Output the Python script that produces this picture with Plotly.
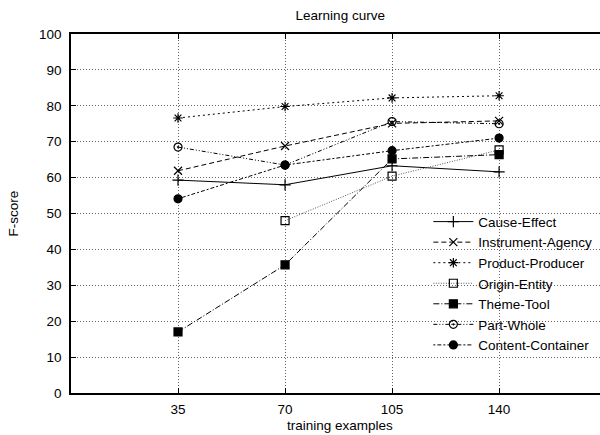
import plotly.graph_objects as go

x_ticks = [35, 70, 105, 140]
series_names = ["Cause-Effect", "Instrument-Agency", "Product-Producer", "Origin-Entity",
                "Theme-Tool", "Part-Whole", "Content-Container"]
cause_effect = [59.3, 58.0, 63.3, 61.6]
instrument_agency = [61.9, 68.8, 75.1, 75.8]
product_producer = [76.6, 79.8, 82.2, 82.8]
origin_entity = [None, 48.0, 60.4, 67.7]
theme_tool = [17.0, 35.7, 65.2, 66.4]
part_whole = [68.5, 63.5, 75.6, 75.0]
content_container = [54.1, 63.5, 67.5, 71.0]

values = [cause_effect, instrument_agency, product_producer, origin_entity,
          theme_tool, part_whole, content_container]
styles = [
    dict(dash="solid", symbol="cross-thin-open", color="#000"),
    dict(dash="5px,3px", symbol="x-thin-open", color="#000"),
    dict(dash="2px,3px", symbol="asterisk-open", color="#000"),
    dict(dash="1px,1.5px", symbol="square-open", color="#555"),
    dict(dash="6px,2px,1px,2px", symbol="square", color="#000"),
    dict(dash="4px,2px,1px,2px,1px,2px", symbol="circle-open-dot", color="#000"),
    dict(dash="2px,2px,4px,2px", symbol="circle", color="#000"),
]

FONT = "Liberation Sans, Arial, sans-serif"
W, H = 600, 435
L, R, T, B = 71, 0, 34, 42

fig = go.Figure()
for name, vals, st in zip(series_names, values, styles):
    fig.add_trace(go.Scatter(
        x=x_ticks, y=vals, name=name, mode="lines+markers",
        line=dict(color=st["color"], width=1, dash=st["dash"]),
        marker=dict(symbol=st["symbol"], size=8, color="#000",
                    line=dict(color="#000", width=1.2)),
        connectgaps=False,
    ))

fig.update_layout(
    width=W, height=H,
    margin=dict(l=L, r=R, t=T, b=B, autoexpand=False),
    paper_bgcolor="white", plot_bgcolor="white",
    font=dict(family=FONT, size=13.5, color="#000"),
    title=dict(text="Learning curve", x=0.509, xref="paper", xanchor="center",
               y=1 - 15 / H, yref="container", yanchor="middle",
               font=dict(size=13.5)),
    showlegend=True,
    legend=dict(x=0.995, xanchor="right", y=0.52, yanchor="top",
                bgcolor="rgba(255,255,255,0)", font=dict(size=13.5),
                itemwidth=40, tracegroupgap=0),
    xaxis=dict(range=[0, 173], tickvals=x_ticks, ticktext=[str(v) for v in x_ticks],
               showline=True, linecolor="#000", linewidth=1.5, mirror="ticks",
               ticks="inside", ticklen=5, tickcolor="#000",
               showgrid=True, gridcolor="#666", griddash="1px,2px", gridwidth=1,
               zeroline=False, ticklabelstandoff=3, automargin=False),
    yaxis=dict(range=[0, 100], dtick=10, showline=True, linecolor="#000", linewidth=1.5,
               ticks="inside", ticklen=5, tickcolor="#000",
               showgrid=True, gridcolor="#666", griddash="1px,2px", gridwidth=1,
               zeroline=False, ticklabelstandoff=5, automargin=False),
    annotations=[
        dict(text="training examples", xref="paper", yref="paper",
             x=(340 - L) / (W - L - R), y=-(425 - (H - B)) / (H - T - B),
             xanchor="center", yanchor="middle", showarrow=False,
             font=dict(size=13.5)),
        dict(text="F-score", xref="paper", yref="paper",
             x=-(L - 13) / (W - L - R), y=0.5, textangle=-90,
             xanchor="center", yanchor="middle", showarrow=False,
             font=dict(size=13.5)),
    ],
)

fig.write_html("out.html", config={"displayModeBar": False},
               post_script="document.body.style.margin='0';document.body.style.overflow='hidden';")
